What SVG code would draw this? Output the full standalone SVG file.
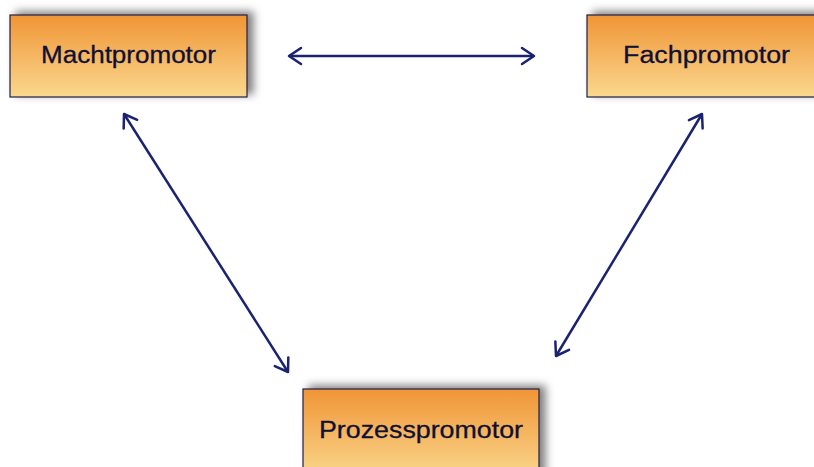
<svg xmlns="http://www.w3.org/2000/svg" width="814" height="467" viewBox="0 0 814 467">
<defs>
<linearGradient id="g" x1="0" y1="0" x2="0" y2="1">
<stop offset="0" stop-color="#F09536"/>
<stop offset="1" stop-color="#FAD88E"/>
</linearGradient>
<filter id="sh" x="-10%" y="-30%" width="125%" height="160%">
<feDropShadow dx="6" dy="-3" stdDeviation="4" flood-color="#000" flood-opacity="0.5"/>
</filter>
<marker id="ah" markerUnits="userSpaceOnUse" markerWidth="30" markerHeight="30" viewBox="-15 -15 30 30" refX="0" refY="0" orient="auto-start-reverse">
<path d="M -12 -8 L 0 0 L -12 8" fill="none" stroke="#1B2270" stroke-width="2.5" stroke-linecap="round" stroke-linejoin="round"/>
</marker>
</defs>
<style>
.box{fill:url(#g);stroke:#1E1E4A;stroke-width:1.2;filter:url(#sh)}
.lbl{font-family:"Liberation Sans",Arial,sans-serif;font-size:23px;fill:#101035;text-anchor:middle;stroke:#101035;stroke-width:0.3}
.con{stroke:#1B2270;stroke-width:2.5;fill:none;marker-start:url(#ah);marker-end:url(#ah)}
</style>
<rect width="814" height="467" fill="#fff"/>
<g id="connectors">
<line class="con" x1="289" y1="56" x2="534" y2="56"/>
<line class="con" x1="124" y1="114" x2="288" y2="372"/>
<line class="con" x1="702" y1="114" x2="556" y2="356"/>
</g>
<g id="machtpromotor">
<rect class="box" x="10" y="15" width="237" height="82"/>
<text class="lbl" x="128.5" y="63" textLength="175" lengthAdjust="spacingAndGlyphs">Machtpromotor</text>
</g>
<g id="fachpromotor">
<rect class="box" x="587" y="15" width="237" height="82"/>
<text class="lbl" x="706.5" y="63" textLength="167" lengthAdjust="spacingAndGlyphs">Fachpromotor</text>
</g>
<g id="prozesspromotor">
<rect class="box" x="303" y="389" width="236" height="90"/>
<text class="lbl" x="421" y="438" textLength="204" lengthAdjust="spacingAndGlyphs">Prozesspromotor</text>
</g>
</svg>
